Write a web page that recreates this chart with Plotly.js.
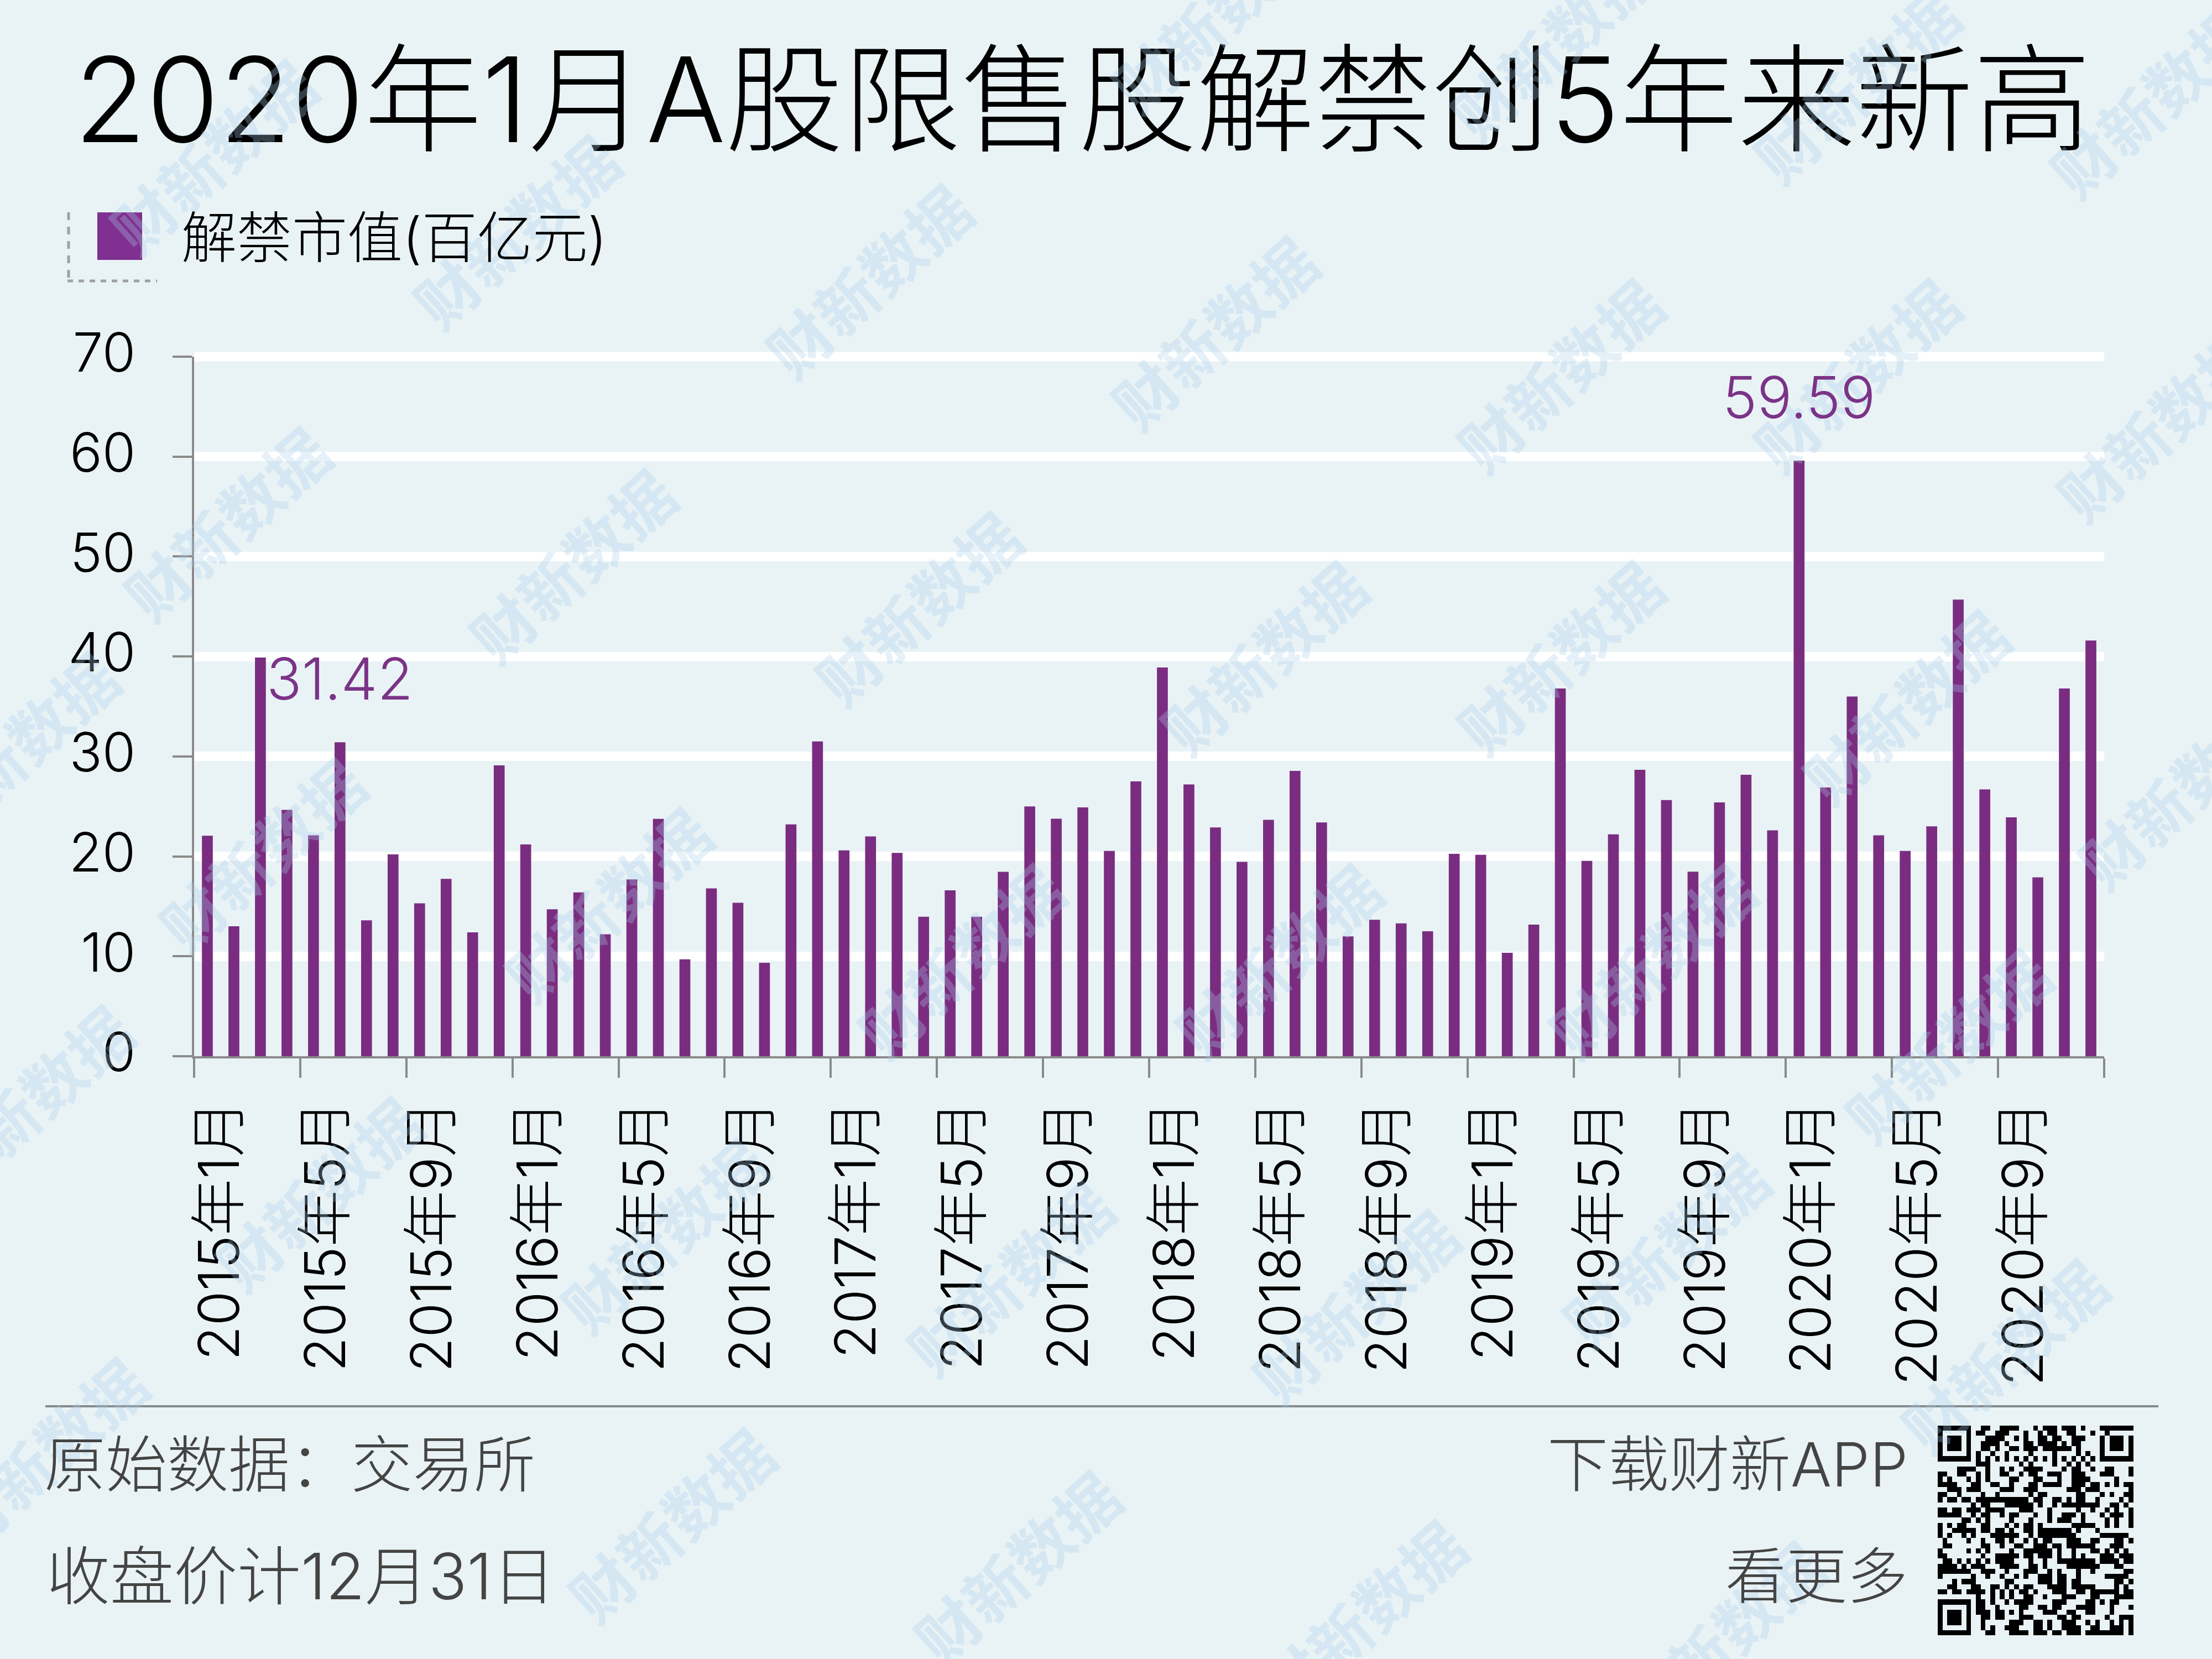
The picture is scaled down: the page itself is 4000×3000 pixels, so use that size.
<!DOCTYPE html>
<html><head><meta charset="utf-8">
<script src="https://cdn.plot.ly/plotly-3.0.1.min.js"></script>
<style>html,body{margin:0;padding:0;background:#e9f3f6}</style></head>
<body><div id="chart" style="width:4000px;height:3000px"></div>
<script>
const months = ["2015年1月","2015年5月","2015年9月","2016年1月","2016年5月","2016年9月","2017年1月","2017年5月","2017年9月","2018年1月","2018年5月","2018年9月","2019年1月","2019年5月","2019年9月","2020年1月","2020年5月","2020年9月",""];
const values = [22.07,13.0,39.9,24.65,22.1,31.42,13.6,20.2,15.3,17.75,12.4,29.1,
21.2,14.7,16.4,12.2,17.7,23.75,9.7,16.8,15.35,9.35,23.2,31.5,
20.6,22.0,20.35,13.96,16.6,13.96,18.45,25.0,23.76,24.9,20.55,27.5,
38.9,27.2,22.9,19.45,23.66,28.56,23.4,12.0,13.66,13.3,12.5,20.25,
20.15,10.35,13.17,36.8,19.55,22.2,28.66,25.64,18.47,25.4,28.17,22.6,
59.59,26.9,36.0,22.1,20.55,23.0,45.7,26.7,23.9,17.9,36.8,41.6];
const yTicks = [0,10,20,30,40,50,60,70];
const seriesName = "解禁市值(百亿元)";
const titleText = "2020年1月A股限售股解禁创5年来新高";
const qrRows = [
"11111110011001111000101110111010001111111",
"10000010110011100010010110011000100 1000001",
"1011101000111100101001101100111000 1011101",
"10111010011110100011011110101100001011101",
"1011101001101001101110111111 010000 1011101",
"10000010100100100001000010000101001000001",
"11111110101010101010101010101010101111111",
"00000000111000000101000010010101000000000",
"00001111001001010011110000101100100110001",
"11001100101001100101100111001110001 11000 1",
"10100010101 0000110001100010011110000010000 1",
"11110001100110010001101111001110110101011",
"00111011100001110011100000011101110000001",
"11001000010010000001011000000110001010011",
"10110110111111111110110011010110010000101",
"00000001011000111111010010111111110011010",
"11011011101111000111000100000100100101001",
"11111001011001011000100100111010001011101",
"00000110101000010001000101110010000101001",
"10101100011000101011010000001111100101001",
"10011111011011010011011111110100010000000",
"10100101000111111001011111111000001111110",
"01000010010011010010101100011100110001101",
"01100000011001001100111011011111100011100",
"10000010101000010011111101001000110101010",
"11000000010011111011011101001010001110111",
"01101010101011110001001001111111101111011",
"11110101110001111001101000011111110001100",
"11111110011100100011100101000100100000011",
"10000001001001001010011101100100000111110 1",
"00010111000000110000011101101100000001101",
"00110001100110101011000111101111100001010",
"11011011110101010110100011100110111111011",
"00000000100101010011001000111000110001 11111",
"11111110110100101111000011 1000011010110000",
"10000010110010000110011011000111100010001",
"10111010111011010100001110011001100010000",
"10111010011011000111000001101100000100111",
"10111010010000011100110100111001010010101",
"10000010010100111000110100111100110011101",
"11111110001100011110111011011101111111101"
].map(r => r.replace(/ /g,""));

const W = 4000, H = 3000;
const fx = p => p / W, fy = p => 1 - p / H;
const FONT = "Inter, 'Noto Sans CJK SC', sans-serif";
const qrZ = qrRows.map(r => r.split("").map(Number));

const marks = [[615,198],[860,235],[1105,265],[1315,265],[1530,300],[1315,60],[1525,70],[1100,30],[860,10],[150,110],[365,163],
[160,370],[405,400],[650,430],[895,465],[1105,465],[1350,500],[1545,560],[10,530],
[185,605],[430,640],[680,680],[905,680],[1170,680],[1380,740],
[20,780],[225,845],[470,875],[715,905],[960,925],[1180,885],[1420,960],
[30,1030],[475,1080],[720,1110],[965,1145],[1220,1160]];
const K = 4000/1568;

const annotations = marks.map(m => ({xref:"paper",yref:"paper",x:fx(m[0]*K),y:fy(m[1]*K),text:"财新数据",showarrow:false,
  textangle:-42,font:{family:"'Noto Sans CJK SC'",size:112,weight:700,color:"rgba(170,205,232,0.30)"},xanchor:"center",yanchor:"middle"}));

annotations.push(
 {xref:"x",yref:"y",x:5,y:values[5],text:"31.42",showarrow:false,yanchor:"bottom",yshift:50,font:{family:FONT,weight:300,size:105,color:"#7b3387"}},
 {xref:"x",yref:"y",x:60,y:values[60],text:"59.59",showarrow:false,yanchor:"bottom",yshift:50,font:{family:FONT,weight:300,size:105,color:"#7b3387"}},
 {xref:"paper",yref:"paper",x:fx(326),y:fy(430),text:seriesName,showarrow:false,xanchor:"left",yanchor:"middle",font:{family:FONT,weight:300,size:100,color:"#000"}},
 {xref:"paper",yref:"paper",x:fx(78),y:fy(2648),text:"原始数据：交易所",showarrow:false,xanchor:"left",yanchor:"middle",font:{family:FONT,weight:300,size:111,color:"#444"}},
 {xref:"paper",yref:"paper",x:fx(82),y:fy(2850),text:"收盘价计12月31日",showarrow:false,xanchor:"left",yanchor:"middle",font:{family:FONT,weight:300,size:115,color:"#444"}},
 {xref:"paper",yref:"paper",x:fx(3452),y:fy(2648),text:"下载财新APP",showarrow:false,xanchor:"right",yanchor:"middle",font:{family:FONT,weight:300,size:110,color:"#444"}},
 {xref:"paper",yref:"paper",x:fx(3452),y:fy(2850),text:"看更多",showarrow:false,xanchor:"right",yanchor:"middle",font:{family:FONT,weight:300,size:110,color:"#444"}}
);

const shapes = [
 {type:"line",xref:"x",yref:"paper",x0:-0.5,x1:71.5,y0:fy(645),y1:fy(645),line:{color:"#fff",width:17},layer:"below"},
 {type:"rect",xref:"paper",yref:"paper",x0:fx(176),x1:fx(257),y0:fy(470),y1:fy(384),fillcolor:"#7f3090",line:{width:0}},
 {type:"line",xref:"paper",yref:"paper",x0:fx(124),x1:fx(124),y0:fy(384),y1:fy(510),line:{color:"#a0a0a0",width:5,dash:"14px,12px"}},
 {type:"line",xref:"paper",yref:"paper",x0:fx(122),x1:fx(284),y0:fy(508),y1:fy(508),line:{color:"#a0a0a0",width:5,dash:"10px,10px"}},
 {type:"line",xref:"paper",yref:"paper",x0:fx(82),x1:fx(3903),y0:fy(2543),y1:fy(2543),line:{color:"#858b8e",width:4}}
];

const xTickVals = months.map((_,i) => i*4-0.5);

Plotly.newPlot("chart",[
 {type:"bar",x:values.map((_,i)=>i),y:values,name:seriesName,marker:{color:"#7a2d80",line:{width:0}},showlegend:false,hoverinfo:"skip"},
 {type:"heatmap",z:qrZ,xaxis:"x3",yaxis:"y3",zmin:0,zmax:1,colorscale:[[0,"rgba(0,0,0,0)"],[1,"#000"]],showscale:false,hoverinfo:"skip"}
],{
 width:W,height:H,margin:{l:0,r:0,t:0,b:0,pad:0},
 paper_bgcolor:"#e9f3f6",plot_bgcolor:"rgba(0,0,0,0)",
 bargap:0.59,showlegend:false,
 title:{text:titleText,x:fx(134),xanchor:"left",xref:"container",y:fy(182),yanchor:"middle",yref:"container",pad:{t:0,b:0,l:0,r:0},font:{family:FONT,size:213,color:"#000",weight:300}},
 xaxis:{domain:[fx(351),fx(3805)],range:[-0.5,71.5],tickmode:"array",tickvals:xTickVals,ticktext:months,tickangle:-90,ticks:"outside",ticklen:35,tickwidth:4,tickcolor:"#8a8a8a",
   showline:true,linecolor:"#8a8a8a",linewidth:4,showgrid:false,zeroline:false,ticklabelshift:48,ticklabelstandoff:0,tickfont:{family:FONT,weight:300,size:102,color:"#000"},anchor:"y"},
 yaxis:{domain:[fy(1910),fy(645)],range:[0,70],tickmode:"array",tickvals:yTicks,ticks:"outside",ticklen:35,tickwidth:4,tickcolor:"#8a8a8a",
   showline:true,linecolor:"#8a8a8a",linewidth:4,showgrid:true,gridcolor:"#fff",gridwidth:17,zeroline:false,ticklabelstandoff:47,ticklabelshift:-7,tickfont:{family:FONT,weight:300,size:98,color:"#000"},anchor:"x"},
 xaxis3:{domain:[fx(3504),fx(3858)],range:[-0.5,40.5],visible:false,anchor:"y3",fixedrange:true},
 yaxis3:{domain:[fy(2957),fy(2578)],range:[40.5,-0.5],visible:false,anchor:"x3",fixedrange:true},
 shapes:shapes,annotations:annotations
},{staticPlot:true,displayModeBar:false});
</script></body></html>
